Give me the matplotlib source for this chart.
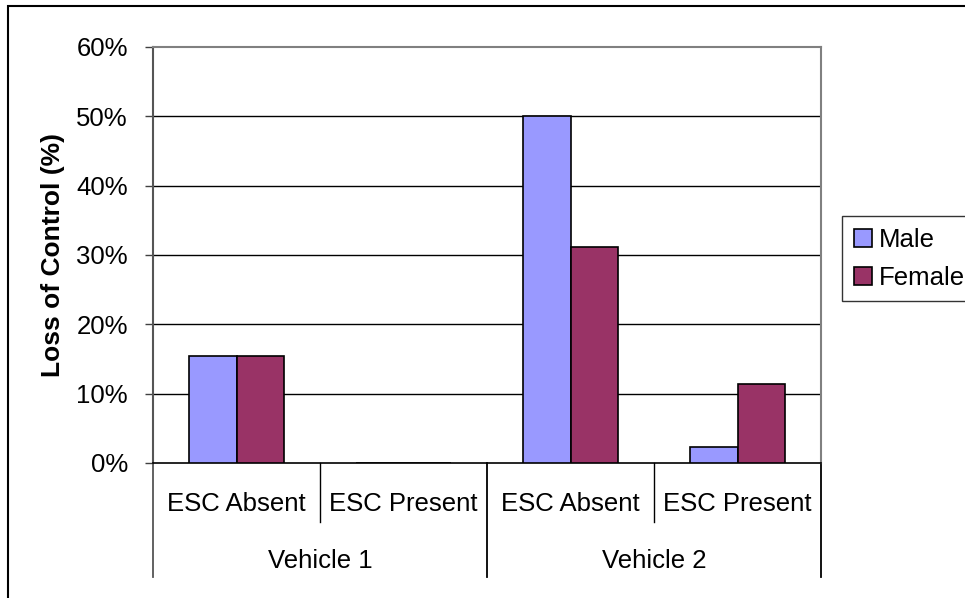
import matplotlib
matplotlib.use("Agg")
import matplotlib.pyplot as plt
from matplotlib.patches import Patch, Rectangle
from matplotlib.ticker import FuncFormatter
import numpy as np

vehicles = ["Vehicle 1", "Vehicle 2"]
conditions = ["ESC Absent", "ESC Present"]
male = [15.4, 0.0, 50.0, 2.3]
female = [15.4, 0.0, 31.1, 11.4]

plt.rcParams["font.family"] = ["Liberation Sans", "DejaVu Sans"]
FS = 18.5

W, H = 965, 598
fig = plt.figure(figsize=(W / 100, H / 100), dpi=100)
ax = fig.add_axes([153 / W, 1 - 463 / H, (821 - 153) / W, (463 - 47) / H])

x = np.arange(len(male))
bw = 1 / 3.5
ax.bar(x - bw / 2, male, bw, color="#9999FF", edgecolor="black", lw=1.2, zorder=3)
ax.bar(x + bw / 2, female, bw, color="#993366", edgecolor="black", lw=1.2, zorder=3)

ax.set_xlim(-0.5, 3.5)
ax.set_ylim(0, 60)
ax.set_yticks(np.arange(0, 61, 10))
ax.yaxis.set_major_formatter(FuncFormatter(lambda v, p: "%d%%" % v))
ax.tick_params(axis="y", labelsize=FS, length=6, width=1, color="#404040", pad=12)
ax.set_xticks([])
for v in range(10, 60, 10):
    ax.axhline(v, color="black", lw=1, zorder=1)

for side in ("top", "right"):
    ax.spines[side].set_color("#808080")
    ax.spines[side].set_linewidth(1.5)
ax.spines["left"].set_color("#555555")
ax.spines["left"].set_linewidth(1.5)
ax.spines["bottom"].set_color("black")
ax.spines["bottom"].set_linewidth(1.2)

ax.set_ylabel("Loss of Control (%)", fontsize=FS + 0.5, fontweight="bold", labelpad=8)

# two-level category axis
tr = ax.get_xaxis_transform()
y_short = -(522 - 463) / 416
y_long = -(577 - 463) / 416
for b in (0.5, 2.5):
    ax.plot([b, b], [0, y_short], color="black", lw=1, transform=tr, clip_on=False)
for b in (-0.5, 1.5, 3.5):
    col = "#555555" if b == -0.5 else "black"
    ax.plot([b, b], [0, y_long], color=col, lw=1.3, transform=tr, clip_on=False)
for i in x:
    ax.text(i, -(504 - 463) / 416, conditions[i % 2], transform=tr,
            ha="center", va="center", fontsize=FS)
for j, name in enumerate(vehicles):
    ax.text(2 * j + 0.5, -(561 - 463) / 416, name, transform=tr,
            ha="center", va="center", fontsize=FS)

handles = [Patch(facecolor="#9999FF", edgecolor="black", lw=1.2),
           Patch(facecolor="#993366", edgecolor="black", lw=1.2)]
leg = fig.legend(handles, ["Male", "Female"], loc="upper left",
                 bbox_to_anchor=(842 / W, 1 - 216 / H), fontsize=FS,
                 frameon=True, fancybox=False, borderaxespad=0,
                 handlelength=0.7, handleheight=0.7, handletextpad=0.3,
                 labelspacing=0.55, borderpad=0.45)
leg.get_frame().set_edgecolor("black")
leg.get_frame().set_linewidth(1)

fig.patches.append(Rectangle((8 / W, -0.1), 1.0, 1.1 - 6 / H, transform=fig.transFigure,
                             fill=False, edgecolor="black", lw=1.5))

fig.savefig("out.png", dpi=100)
